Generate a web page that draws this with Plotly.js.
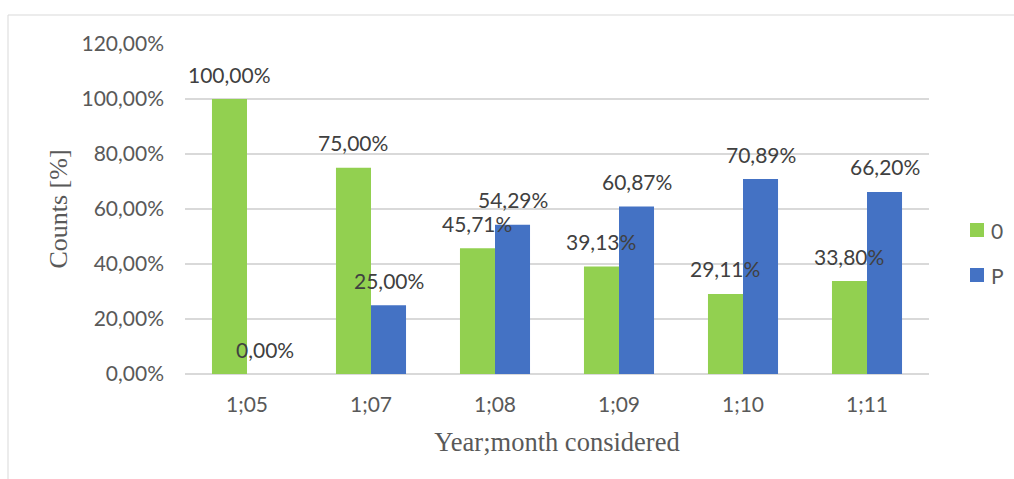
<!DOCTYPE html>
<html>
<head>
<meta charset="utf-8">
<script src="https://cdn.plot.ly/plotly-3.0.1.min.js"></script>
<style>
  html, body { margin: 0; padding: 0; background: #ffffff; }
  #chart { width: 1014px; height: 479px; }
</style>
</head>
<body>
<div id="chart"></div>
<script>
// ---- data ----
const categories = ["1;05", "1;07", "1;08", "1;09", "1;10", "1;11"];
const seriesNames = ["0", "P"];
const values0 = [100.00, 75.00, 45.71, 39.13, 29.11, 33.80];
const valuesP = [0.00, 25.00, 54.29, 60.87, 70.89, 66.20];
const yTickValues = [0, 20, 40, 60, 80, 100, 120];

// ---- style ----
const W = 1014, H = 479;
const M = { l: 185, r: 85, t: 44, b: 105 };
const plotW = W - M.l - M.r, plotH = H - M.t - M.b;
const colors = ["#92D050", "#4472C4"];
const grey = "#595959";
const sans = "Lato, 'Open Sans', sans-serif";
const serif = "'Liberation Serif', 'DejaVu Serif', serif";
const bargap = 0.435;
const barW = (1 - bargap) / 2 * (plotW / categories.length);

function fmt(v) { return v.toFixed(2).replace(".", ",") + "%"; }
const frac = arr => arr.map(v => v / 100);

const seriesValues = [values0, valuesP];
const traces = seriesValues.map((vals, s) => ({
  type: "bar", name: seriesNames[s], x: categories, y: frac(vals),
  marker: { color: colors[s], line: { width: 0 } }, hoverinfo: "none", showlegend: false
}));

const annotations = [];
seriesValues.forEach((vals, s) => {
  vals.forEach((v, i) => {
    annotations.push({
      x: categories[i], y: v / 100, xref: "x", yref: "y",
      text: fmt(v), showarrow: false,
      xanchor: "center", yanchor: "middle",
      xshift: (s === 0 ? -1 : 1) * barW / 2,
      yshift: 25,
      font: { family: sans, size: 21, color: "#404040" }
    });
  });
});

const px2x = px => (px - M.l) / plotW;
const py2y = py => (H - M.b - py) / plotH;

// outer chart border (light grey, top and left visible)
const shapes = [{
  type: "rect", xref: "paper", yref: "paper",
  x0: px2x(8), x1: px2x(W + 20), y0: py2y(H + 20), y1: py2y(15),
  line: { color: "#D9D9D9", width: 1 }, fillcolor: "rgba(0,0,0,0)", layer: "below"
}];

// legend drawn as shapes + annotations (to keep plot area fixed)
const legendX = 977, legendY0 = 230, legendStep = 45, sym = 14;
seriesNames.forEach((name, s) => {
  const cy = legendY0 + s * legendStep;
  shapes.push({
    type: "rect", xref: "paper", yref: "paper",
    x0: px2x(legendX - sym / 2), x1: px2x(legendX + sym / 2),
    y0: py2y(cy + sym / 2), y1: py2y(cy - sym / 2),
    line: { width: 0 }, fillcolor: colors[s]
  });
  annotations.push({
    xref: "paper", yref: "paper", x: px2x(legendX + 12), y: py2y(cy),
    xanchor: "left", yanchor: "middle", showarrow: false, text: name,
    font: { family: sans, size: 21, color: grey }
  });
});

const layout = {
  width: W, height: H,
  margin: M,
  paper_bgcolor: "#ffffff", plot_bgcolor: "#ffffff",
  separators: ",.",
  barmode: "group", bargap: bargap, bargroupgap: 0,
  font: { family: sans, color: grey, size: 21 },
  xaxis: {
    type: "category", showgrid: false, zeroline: false, showline: false,
    ticks: "", ticklabelstandoff: 16,
    tickfont: { family: sans, size: 21, color: grey },
    title: { text: "Year;month considered", font: { family: serif, size: 26.5, color: grey }, standoff: 17 }
  },
  yaxis: {
    range: [0, 1.2], tickvals: frac(yTickValues), tickformat: ".2%",
    showgrid: true, gridcolor: "#D9D9D9", gridwidth: 1.3,
    zeroline: true, zerolinecolor: "#D9D9D9", zerolinewidth: 1.5,
    showline: false, ticks: "", ticklabelstandoff: 20,
    tickfont: { family: sans, size: 21, color: grey },
    title: { text: "Counts [%]", font: { family: serif, size: 26, color: grey }, standoff: 6 }
  },
  showlegend: false,
  annotations: annotations,
  shapes: shapes
};

Plotly.newPlot("chart", traces, layout, { staticPlot: true, displayModeBar: false });
</script>
</body>
</html>
